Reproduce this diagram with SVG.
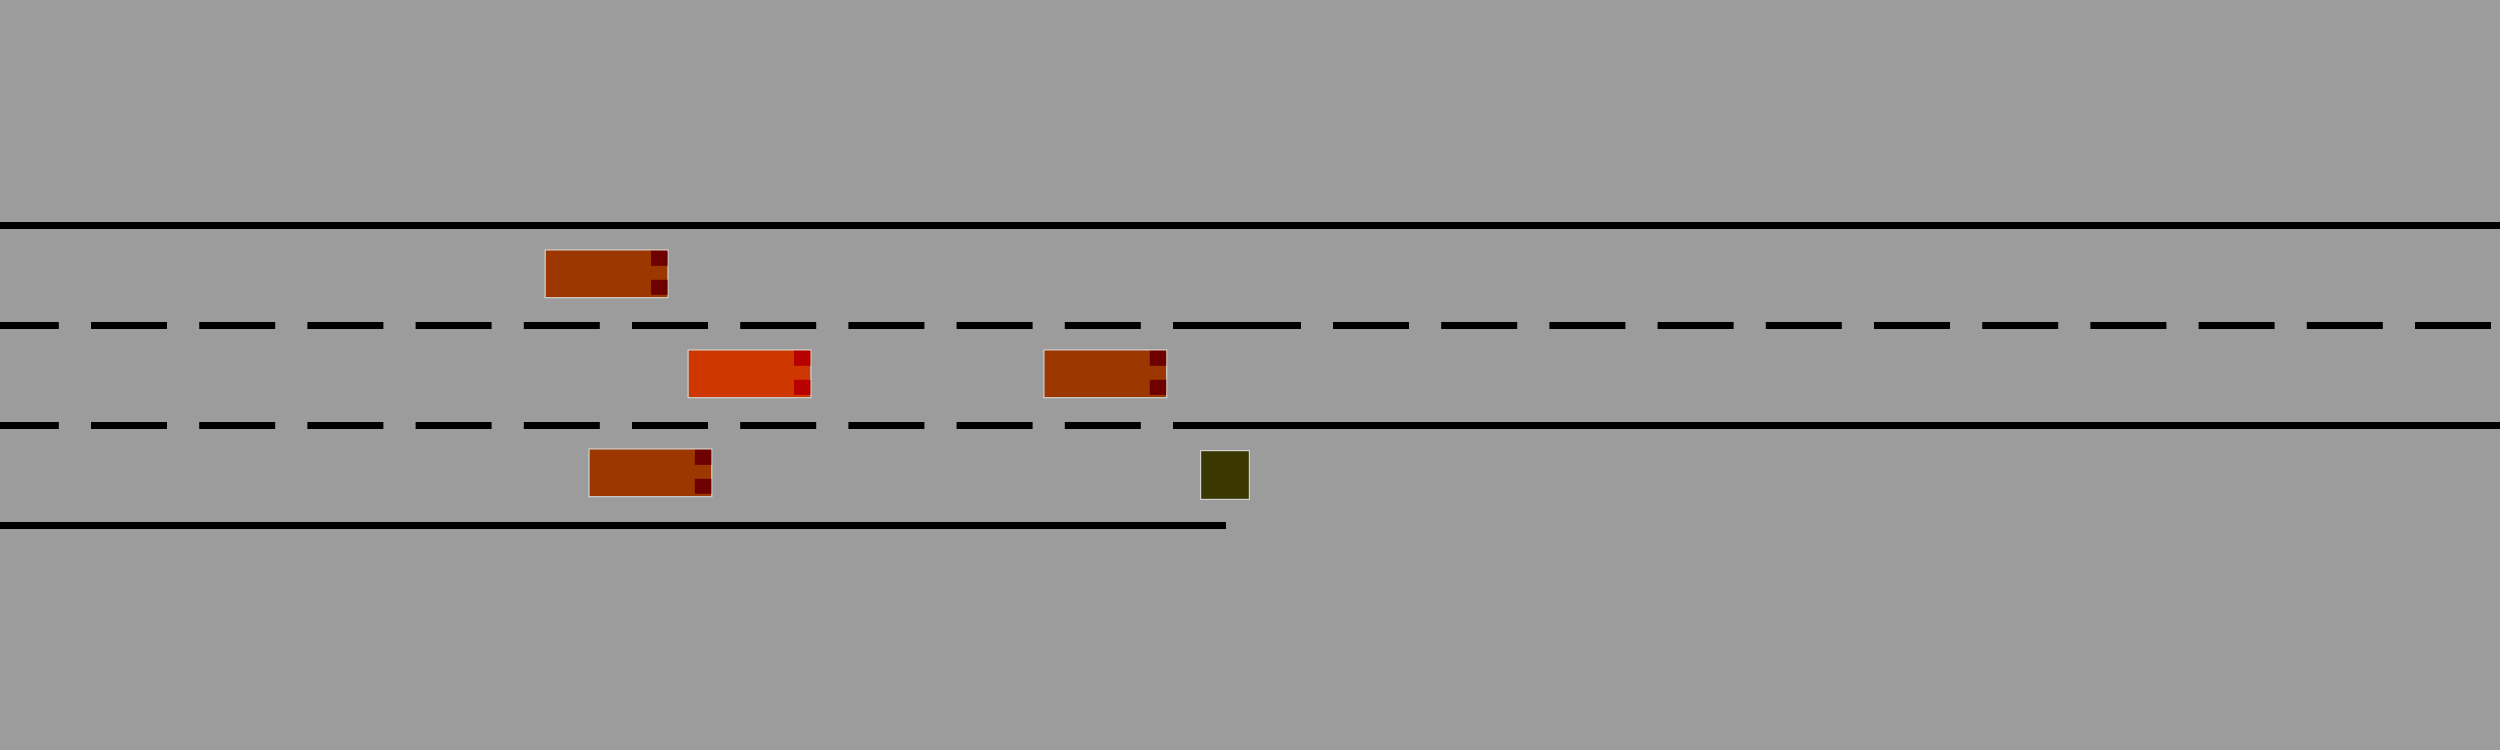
<svg xmlns="http://www.w3.org/2000/svg" width="2500" height="750" viewBox="0 0 2500 750">
  <style>
    .line { fill: #000000; }
    .dash { stroke: #000000; stroke-width: 7; stroke-dasharray: 76 32.2; fill: none; }
    .body { fill: #9c3700; stroke: #d0d0d0; stroke-width: 1.2; }
    .ego { fill: #cf3700; stroke: #d0d0d0; stroke-width: 1.2; }
    .lamp { fill: #6e0000; }
    .egolamp { fill: #b90000; }
    .obstacle { fill: #3a3700; stroke: #d0d0d0; stroke-width: 1.2; }
  </style>
  <rect x="0" y="0" width="2500" height="750" fill="#9c9c9c"/>
  <g id="road">
    <rect class="line" x="0" y="222" width="2500" height="7"/>
    <line class="dash" x1="0" y1="325.5" x2="1173" y2="325.5" stroke-dashoffset="17.2"/>
    <rect class="line" x="1173" y="322" width="128" height="7"/>
    <line class="dash" x1="1333" y1="325.5" x2="2500" y2="325.5"/>
    <line class="dash" x1="0" y1="425.5" x2="1160" y2="425.5" stroke-dashoffset="17.2"/>
    <rect class="line" x="1173" y="422" width="1327" height="7"/>
    <rect class="line" x="0" y="522" width="1226" height="7"/>
  </g>
  <g id="car1" transform="translate(544.6 249.3)">
    <rect class="body" x="0.6" y="0.6" width="122.8" height="47.8"/>
    <rect class="lamp" x="106.5" y="1.5" width="16.4" height="15"/>
    <rect class="lamp" x="106.5" y="30.5" width="16.4" height="15"/>
  </g>
  <g id="ego" transform="translate(687.5 349.3)">
    <rect class="ego" x="0.6" y="0.6" width="122.8" height="47.8"/>
    <rect class="egolamp" x="106.5" y="1.5" width="16.4" height="15"/>
    <rect class="egolamp" x="106.5" y="30.5" width="16.4" height="15"/>
  </g>
  <g id="car3" transform="translate(1043.3 349.3)">
    <rect class="body" x="0.6" y="0.6" width="122.8" height="47.8"/>
    <rect class="lamp" x="106.5" y="1.5" width="16.4" height="15"/>
    <rect class="lamp" x="106.5" y="30.5" width="16.4" height="15"/>
  </g>
  <g id="car4" transform="translate(588.4 448.3)">
    <rect class="body" x="0.6" y="0.6" width="122.8" height="47.8"/>
    <rect class="lamp" x="106.5" y="1.5" width="16.4" height="15"/>
    <rect class="lamp" x="106.5" y="30.5" width="16.4" height="15"/>
  </g>
  <g id="obstacle">
    <rect class="obstacle" x="1200.6" y="450.6" width="48.8" height="48.8"/>
  </g>
</svg>
